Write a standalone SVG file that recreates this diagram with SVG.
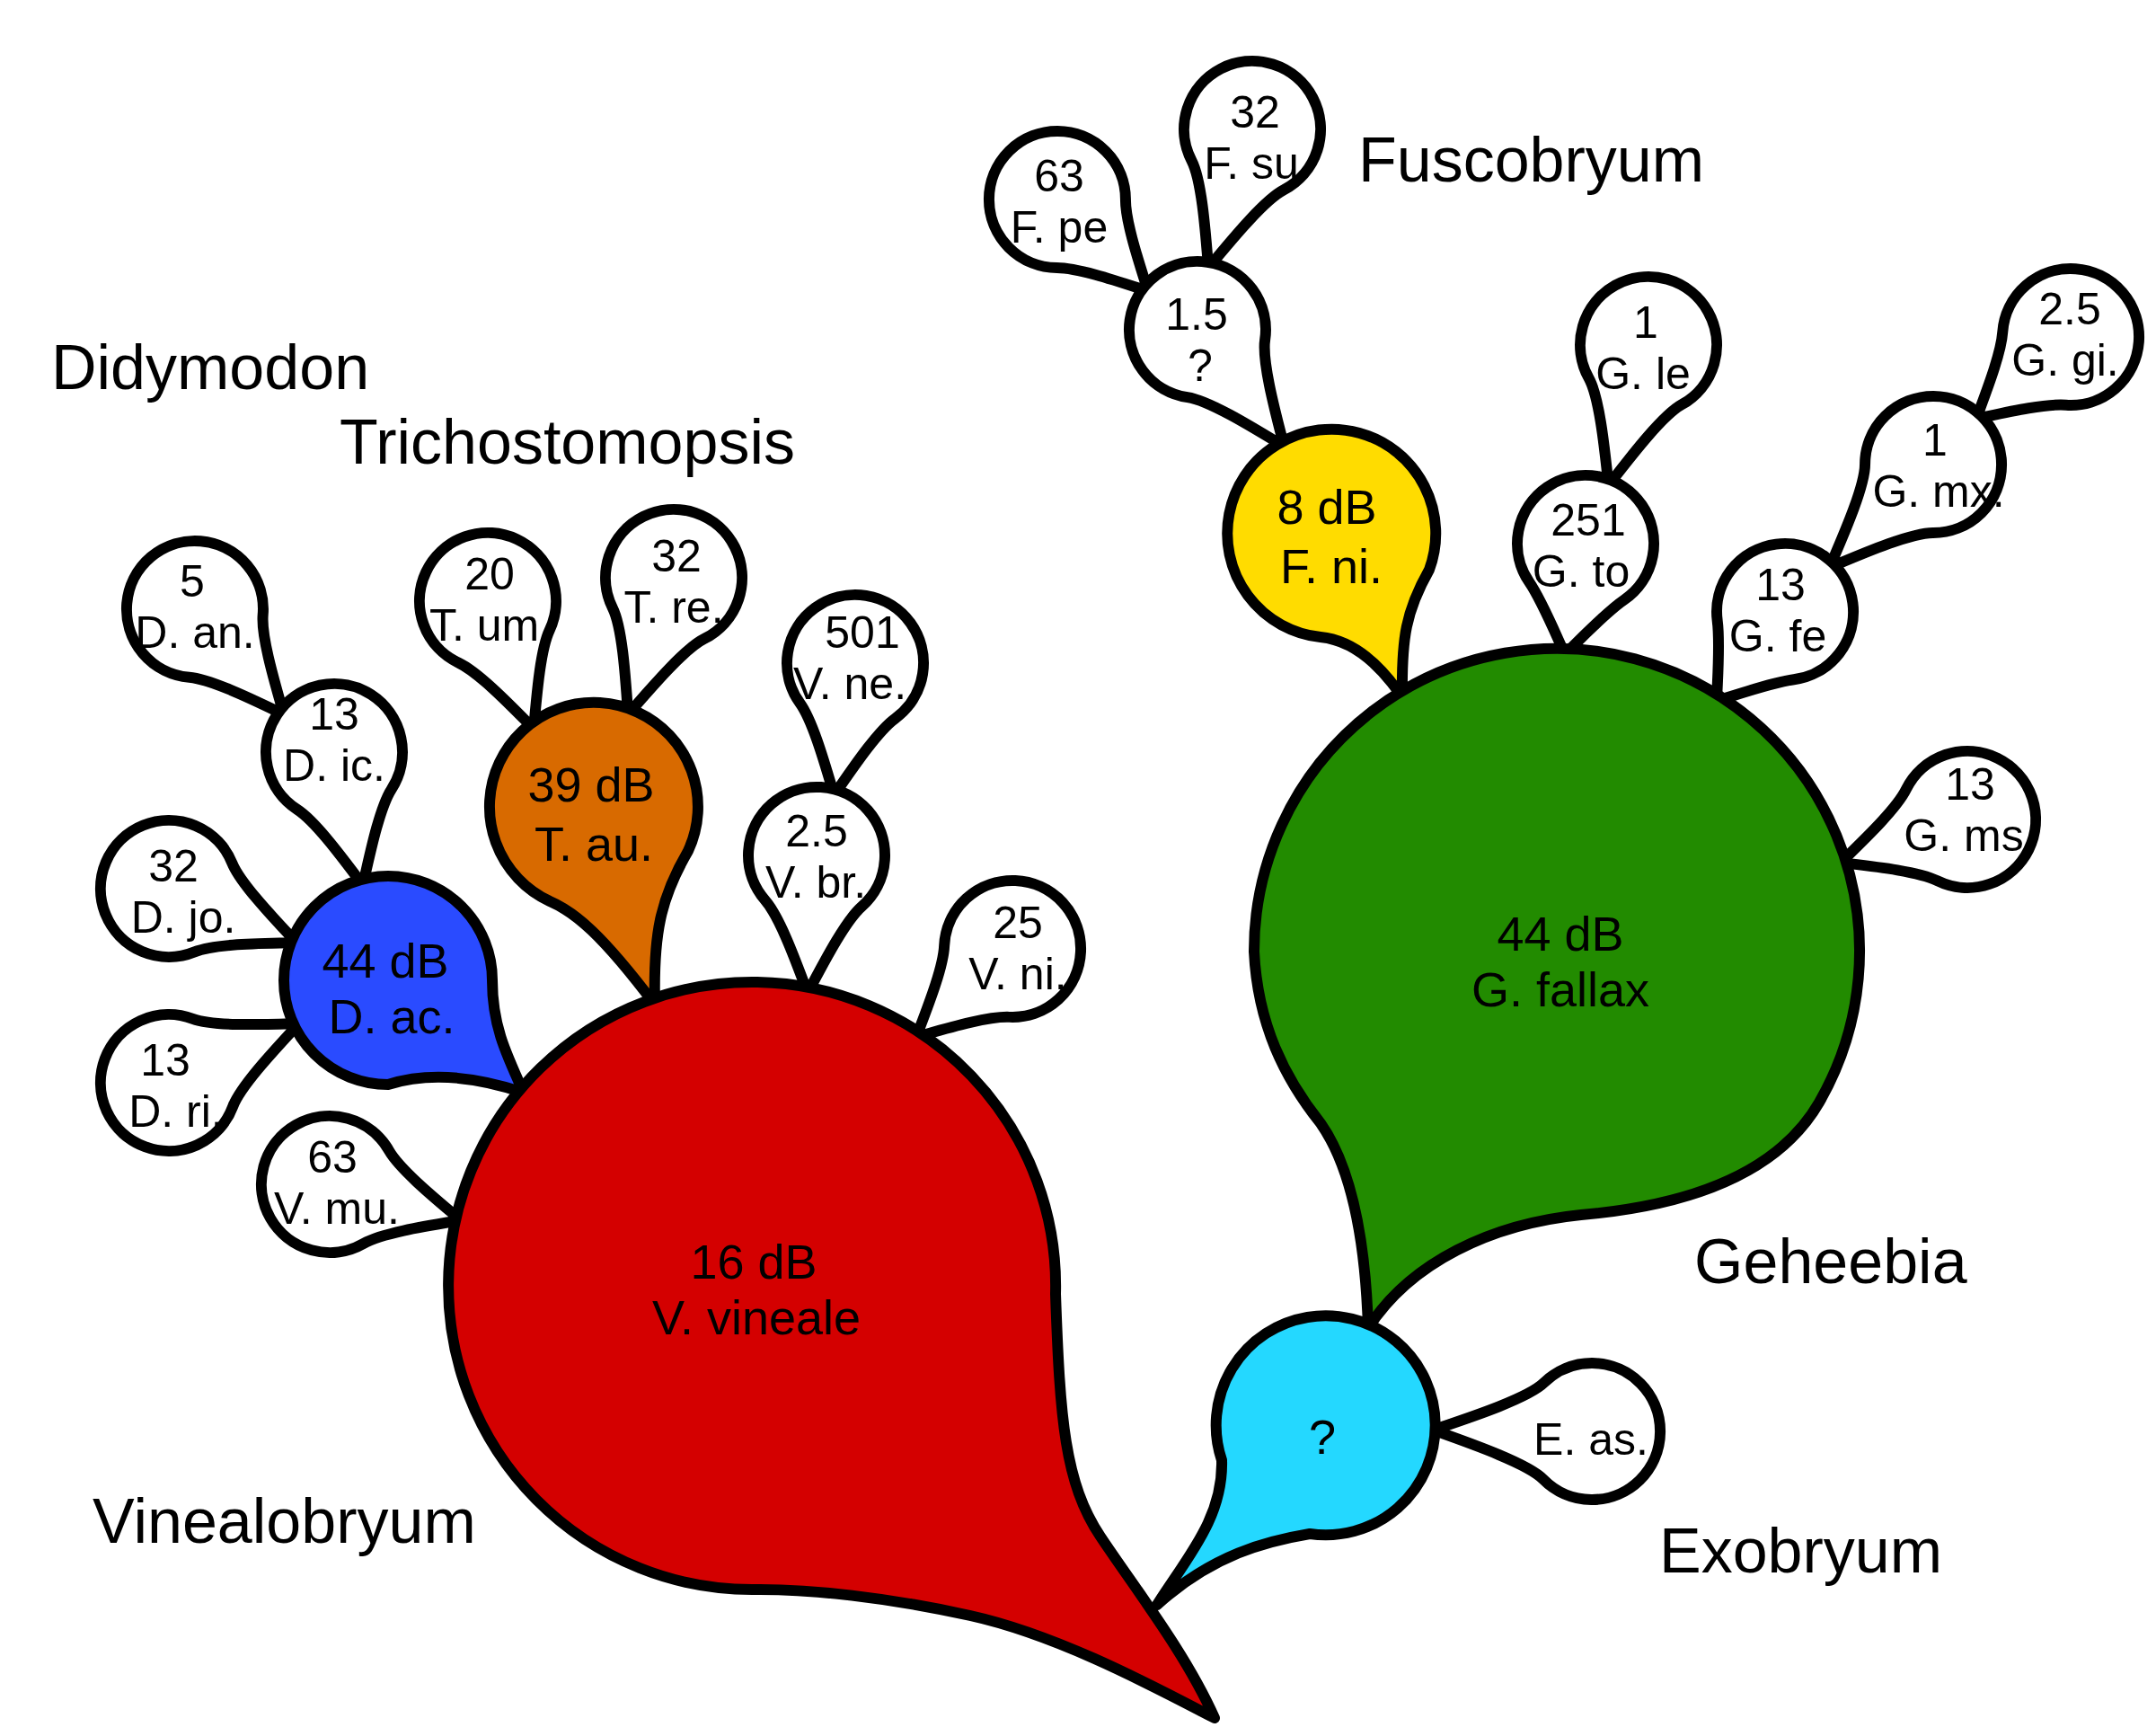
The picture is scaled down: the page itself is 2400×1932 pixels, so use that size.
<svg xmlns="http://www.w3.org/2000/svg" width="2400" height="1932" viewBox="0 0 2400 1932">
<style>
.w{fill:#fff;stroke:#000;stroke-width:12;stroke-linejoin:round}
.c{stroke:#000;stroke-width:12;stroke-linejoin:round}
text{font-family:"Liberation Sans",Arial,sans-serif;fill:#000}
.t{font-size:50px;text-anchor:middle}
.b{font-size:54px;text-anchor:middle}
.g{font-size:70px}
</style>
<rect width="2400" height="1932" fill="#fff"/>
<g id="labels">
<text class="g" x="57" y="433">Didymodon</text>
<text class="g" x="378" y="516">Trichostomopsis</text>
<text class="g" x="1512" y="202">Fuscobryum</text>
<text class="g" x="1886" y="1428">Geheebia</text>
<text class="g" x="1847" y="1750">Exobryum</text>
<text class="g" x="103" y="1717">Vinealobryum</text>
</g>
<g id="connectors"></g>
<g id="nodes">
<g id="n-dan"><path class="w" transform="translate(217,678) rotate(49.8)" d="M153.3,0 C122.4,14 71.4,36 53.7,53.7 A76,76 0 1 1 53.7,-53.7 C71.4,-36 122.4,-14 153.3,0 Z"/><text class="t" x="214" y="664">5</text><text class="t" x="217" y="721">D. an.</text></g>
<g id="n-fpe"><path class="w" transform="translate(1177,222) rotate(45.3)" d="M143.5,0 C116.5,14 71.4,36 53.7,53.7 A76,76 0 1 1 53.7,-53.7 C71.4,-36 116.5,-14 143.5,0 Z"/><text class="t" x="1179" y="213">63</text><text class="t" x="1179" y="270">F. pe</text></g>
<g id="n-fsu"><path class="w" transform="translate(1394,144) rotate(107.6)" d="M161.6,0 C127.4,14 71.4,36 53.7,53.7 A76,76 0 1 1 53.7,-53.7 C71.4,-36 127.4,-14 161.6,0 Z"/><text class="t" x="1397" y="142">32</text><text class="t" x="1393" y="199">F. su</text></g>
<g id="n-gle"><path class="w" transform="translate(1835,384) rotate(105.9)" d="M162.2,0 C127.7,14 71.4,36 53.7,53.7 A76,76 0 1 1 53.7,-53.7 C71.4,-36 127.7,-14 162.2,0 Z"/><text class="t" x="1832" y="376">1</text><text class="t" x="1829" y="433">G. le</text></g>
<g id="n-ggi"><path class="w" transform="translate(2305,375) rotate(139.1)" d="M139,0 C113.8,14 71.4,36 53.7,53.7 A76,76 0 1 1 53.7,-53.7 C71.4,-36 113.8,-14 139,0 Z"/><text class="t" x="2304" y="361">2.5</text><text class="t" x="2299" y="418">G. gi.</text></g>
<g id="n-vne"><path class="w" transform="translate(952,738) rotate(99.1)" d="M148.6,0 C119.6,14 71.4,36 53.7,53.7 A76,76 0 1 1 53.7,-53.7 C71.4,-36 119.6,-14 148.6,0 Z"/><text class="t" x="960" y="721">501</text><text class="t" x="946" y="778">V. ne.</text></g>
<g id="n-dic"><path class="w" transform="translate(372,837) rotate(77.8)" d="M151.4,0 C121.2,14 71.4,36 53.7,53.7 A76,76 0 1 1 53.7,-53.7 C71.4,-36 121.2,-14 151.4,0 Z"/><text class="t" x="372" y="812">13</text><text class="t" x="372" y="869">D. ic.</text></g>
<g id="n-djo"><path class="w" transform="translate(188,989) rotate(22.9)" d="M154.2,0 C122.9,14 71.4,36 53.7,53.7 A76,76 0 1 1 53.7,-53.7 C71.4,-36 122.9,-14 154.2,0 Z"/><text class="t" x="193" y="981">32</text><text class="t" x="204" y="1038">D. jo.</text></g>
<g id="n-dri"><path class="w" transform="translate(188,1205) rotate(-24.5)" d="M159.3,0 C126,14 71.4,36 53.7,53.7 A76,76 0 1 1 53.7,-53.7 C71.4,-36 126,-14 159.3,0 Z"/><text class="t" x="184" y="1197">13</text><text class="t" x="196" y="1254">D. ri.</text></g>
<g id="n-tum"><path class="w" transform="translate(543,669) rotate(70.2)" d="M150.9,0 C121,14 71.4,36 53.7,53.7 A76,76 0 1 1 53.7,-53.7 C71.4,-36 121,-14 150.9,0 Z"/><text class="t" x="545" y="656">20</text><text class="t" x="546" y="713">T. um.</text></g>
<g id="n-tre"><path class="w" transform="translate(750,643) rotate(108.5)" d="M160.3,0 C126.6,14 71.4,36 53.7,53.7 A76,76 0 1 1 53.7,-53.7 C71.4,-36 126.6,-14 160.3,0 Z"/><text class="t" x="753" y="636">32</text><text class="t" x="750" y="693">T. re.</text></g>
<g id="n-f15"><path class="w" transform="translate(1333,367) rotate(53.4)" d="M161.9,0 C127.5,14 71.4,36 53.7,53.7 A76,76 0 1 1 53.7,-53.7 C71.4,-36 127.5,-14 161.9,0 Z"/><text class="t" x="1332" y="367">1.5</text><text class="t" x="1336" y="424">?</text></g>
<g id="n-gto"><path class="w" transform="translate(1765,605) rotate(100.6)" d="M125.1,0 C105.5,14 71.4,36 53.7,53.7 A76,76 0 1 1 53.7,-53.7 C71.4,-36 105.5,-14 125.1,0 Z"/><text class="t" x="1768" y="596">251</text><text class="t" x="1760" y="653">G. to</text></g>
<g id="n-gmx"><path class="w" transform="translate(2152,517) rotate(135.2)" d="M162.6,0 C128,14 71.4,36 53.7,53.7 A76,76 0 1 1 53.7,-53.7 C71.4,-36 128,-14 162.6,0 Z"/><text class="t" x="2154" y="507">1</text><text class="t" x="2158" y="564">G. mx.</text></g>
<g id="n-vbr"><path class="w" transform="translate(909,952) rotate(93.7)" d="M153.3,0 C122.4,14 71.4,36 53.7,53.7 A76,76 0 1 1 53.7,-53.7 C71.4,-36 122.4,-14 153.3,0 Z"/><text class="t" x="909" y="942">2.5</text><text class="t" x="908" y="999">V. br.</text></g>
<g id="n-dac"><path class="c" fill="#2A4BFF" d="M583,1216 C562,1170 548,1140 548,1091 A116,116 0 1 0 432,1207 C470,1195 520,1195 583,1216 Z"/><text class="b" x="429" y="1088">44 dB</text><text class="b" x="436" y="1150">D. ac.</text></g>
<g id="n-tau"><path class="c" fill="#D86A00" d="M729,1118 C727,1040 735,1000 766,947 A116,116 0 1 0 612,1003 C640,1015 670,1040 729,1118 Z"/><text class="b" x="658" y="892">39 dB</text><text class="b" x="661" y="958">T. au.</text></g>
<g id="n-fni"><path class="c" fill="#FFDC00" d="M1561,776 C1560,710 1565,680 1591,634 A116,116 0 1 0 1470,709 C1500,712 1530,730 1561,776 Z"/><text class="b" x="1477" y="583">8 dB</text><text class="b" x="1482" y="649">F. ni.</text></g>
<g id="n-gfe"><path class="w" transform="translate(1987,681) rotate(127.5)" d="M124.8,0 C105.3,14 71.4,36 53.7,53.7 A76,76 0 1 1 53.7,-53.7 C71.4,-36 105.3,-14 124.8,0 Z"/><text class="t" x="1982" y="668">13</text><text class="t" x="1979" y="725">G. fe</text></g>
<g id="n-gms"><path class="w" transform="translate(2190,912) rotate(161.2)" d="M148.9,0 C119.7,14 71.4,36 53.7,53.7 A76,76 0 1 1 53.7,-53.7 C71.4,-36 119.7,-14 148.9,0 Z"/><text class="t" x="2193" y="890">13</text><text class="t" x="2186" y="947">G. ms</text></g>
<g id="n-vmu"><path class="w" transform="translate(367,1318) rotate(15.3)" d="M151.4,0 C121.2,14 71.4,36 53.7,53.7 A76,76 0 1 1 53.7,-53.7 C71.4,-36 121.2,-14 151.4,0 Z"/><text class="t" x="370" y="1305">63</text><text class="t" x="375" y="1362">V. mu.</text></g>
<g id="n-vni"><path class="w" transform="translate(1127,1056) rotate(137.5)" d="M145.1,0 C117.5,14 71.4,36 53.7,53.7 A76,76 0 1 1 53.7,-53.7 C71.4,-36 117.5,-14 145.1,0 Z"/><text class="t" x="1133" y="1044">25</text><text class="t" x="1133" y="1101">V. ni.</text></g>
<g id="n-eas"><path class="w" transform="translate(1772,1593) rotate(180.5)" d="M177,0 C136.6,14 71.4,36 53.7,53.7 A76,76 0 1 1 53.7,-53.7 C71.4,-36 136.6,-14 177,0 Z"/><text class="t" x="1771" y="1619">E. as.</text></g>
<g id="n-gfa"><path class="c" fill="#228B00" d="M1523,1478 C1520,1380 1505,1300 1470,1250 C1430,1200 1400,1140 1396,1059 A337,337 0 1 1 2025,1227 C1985,1296 1900,1340 1760,1352 C1660,1362 1570,1405 1523,1478 Z"/><text class="b" x="1737" y="1058">44 dB</text><text class="b" x="1737" y="1120">G. fallax</text></g>
<g id="n-cy"><path class="c" fill="#24D8FF" d="M1288,1786 C1320,1735 1362,1690 1360,1625 A122,122 0 1 1 1458,1707 C1410,1715 1350,1730 1288,1786 Z"/><text class="b" x="1472" y="1618">?</text></g>
<g id="n-red"><path class="c" fill="#D40000" d="M1352,1912 C1290,1880 1180,1820 1080,1798 C990,1778 900,1768 837,1769 A338,338 0 1 1 1175,1440 C1180,1580 1185,1650 1225,1710 C1265,1770 1320,1840 1352,1912 Z"/><text class="b" x="839" y="1423">16 dB</text><text class="b" x="842" y="1485">V. vineale</text></g>
</g>
</svg>
